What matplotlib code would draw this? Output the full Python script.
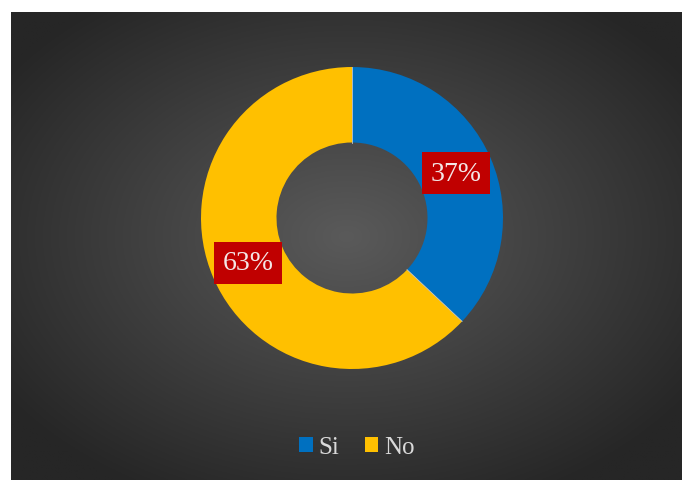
import matplotlib.pyplot as plt
import numpy as np

plt.rcParams['font.family'] = ['Liberation Serif', 'DejaVu Serif']

categories = ['Si', 'No']
shares = [37, 63]
colors = ['#0070C0', '#FFC000']

W, H = 682, 481
fig = plt.figure(figsize=(W / 100, H / 100), dpi=100)
fig.patch.set_facecolor('white')

# dark panel with a radial gradient
bg = fig.add_axes([11 / W, 0, 1 - 11 / W, 1 - 13 / H])
bg.set_axis_off()
yy, xx = np.mgrid[0:1:300j, 0:1:420j]
d = np.sqrt(((xx - 0.5) / 0.62) ** 2 + ((yy - 0.48) / 0.62) ** 2)
d = np.clip(d, 0, 1)
c0, c1 = 0x5a / 255, 0x26 / 255
shade = c0 + (c1 - c0) * d
img = np.dstack([shade, shade, shade])
bg.imshow(img, extent=[0, 1, 0, 1], aspect='auto', origin='upper')

# donut
cx, cy, r = 352, 219, 151
ax = fig.add_axes([(cx - r) / W, (H - cy - r) / H, 2 * r / W, 2 * r / H])
ax.patch.set_alpha(0)
wedges, _ = ax.pie(shares, colors=colors, startangle=90, counterclock=False,
                   radius=1, wedgeprops=dict(width=0.5, edgecolor='none'))
ax.set_xlim(-1, 1)
ax.set_ylim(-1, 1)

total = sum(shares)
start = 90
for w, val in zip(wedges, shares):
    # thin light separator at the start of each slice
    a = np.deg2rad(start)
    ax.plot([0.5 * np.cos(a), np.cos(a)], [0.5 * np.sin(a), np.sin(a)],
            color='#c8c8c8', lw=0.6)
    mid = np.deg2rad(start - val / total * 180)
    start -= val / total * 360
    ax.text(0.75 * np.cos(mid), 0.75 * np.sin(mid), f'{val}%',
            ha='center', va='center', fontsize=20, color='#f4e6e6',
            bbox=dict(boxstyle='square,pad=0.3', facecolor='#C00000',
                      edgecolor='none'))

leg = fig.legend(wedges, categories, loc='center',
                 bbox_to_anchor=(357 / W, 1 - 448 / H),
                 ncol=2, frameon=False, fontsize=18, labelcolor='#d9d9d9',
                 handlelength=0.55, handleheight=0.55, handletextpad=0.25,
                 columnspacing=1.0)
for h in leg.legend_handles:
    h.set_edgecolor('none')

fig.savefig('out.png', dpi=100)
